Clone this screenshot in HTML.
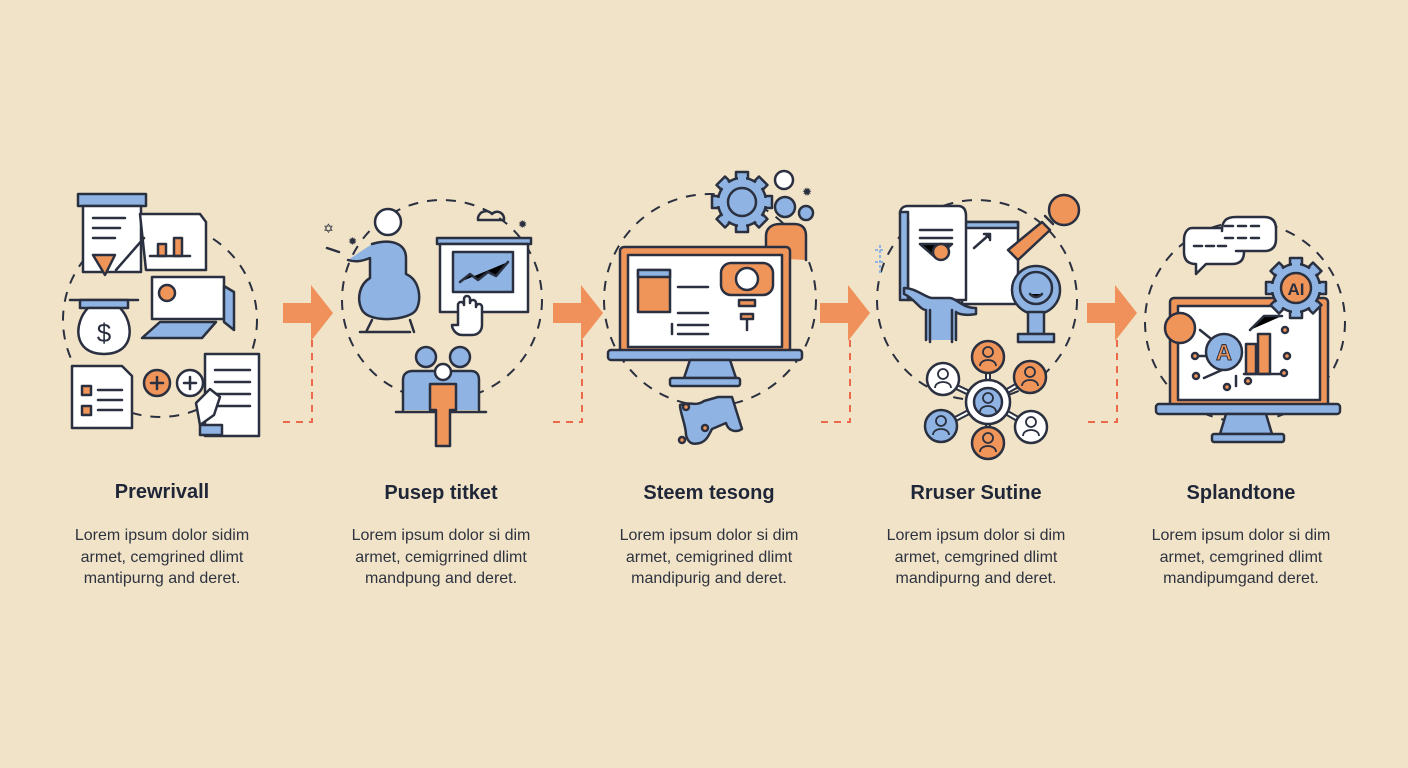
<!DOCTYPE html>
<html><head><meta charset="utf-8"><style>
html,body{margin:0;padding:0;background:#f1e3c7;}
svg{display:block}
text{font-family:"Liberation Sans",sans-serif;}
.t{font-size:20px;font-weight:bold;fill:#1f2638;text-anchor:middle}
.b{font-size:16px;fill:#2e3340;text-anchor:middle}
.k{stroke:#2a3040;stroke-width:2.5;stroke-linejoin:round;stroke-linecap:round}
.dc{fill:none;stroke:#2a3040;stroke-width:2;stroke-dasharray:10 9}
.rd{fill:none;stroke:#ec6a4c;stroke-width:2;stroke-dasharray:7 6}
</style></head><body>
<svg width="1408" height="768" viewBox="0 0 1408 768" xmlns="http://www.w3.org/2000/svg">
<defs>
<g id="gear">
<g fill="#8fb4e3" stroke="#2a3040" stroke-width="2.5" stroke-linejoin="round">
<rect x="-6" y="-30" width="12" height="60"/>
<rect x="-6" y="-30" width="12" height="60" transform="rotate(45)"/>
<rect x="-6" y="-30" width="12" height="60" transform="rotate(90)"/>
<rect x="-6" y="-30" width="12" height="60" transform="rotate(135)"/>
<circle r="24"/>
</g>
<g fill="#8fb4e3" stroke="none">
<rect x="-4" y="-27" width="8" height="54"/>
<rect x="-4" y="-27" width="8" height="54" transform="rotate(45)"/>
<rect x="-4" y="-27" width="8" height="54" transform="rotate(90)"/>
<rect x="-4" y="-27" width="8" height="54" transform="rotate(135)"/>
<circle r="22"/>
</g>
</g>
</defs>
<rect width="1408" height="768" fill="#f1e3c7"/>
<circle class="dc" cx="160" cy="320" r="97"/>
<circle class="dc" cx="442" cy="300" r="100"/>
<circle class="dc" cx="710" cy="300" r="106"/>
<circle class="dc" cx="977" cy="300" r="100"/>
<circle class="dc" cx="1245" cy="322" r="100"/>
<g fill="#f0905a">
<path d="M283 303h28v-18l22 28-22 28v-18h-28z"/>
<path d="M553 303h28v-18l22 28-22 28v-18h-28z"/>
<path d="M820 303h28v-18l22 28-22 28v-18h-28z"/>
<path d="M1087 303h28v-18l22 28-22 28v-18h-28z"/>
</g>
<path class="rd" d="M312 340V422H280"/>
<path class="rd" d="M582 340V422H550"/>
<path class="rd" d="M850 340V422H818"/>
<path class="rd" d="M1117 340V422H1085"/>

<!-- COL 1 -->
<g class="k">
<rect x="78" y="194" width="68" height="12" fill="#8fb4e3"/>
<rect x="83" y="206" width="58" height="66" fill="#fff"/>
<line x1="93" y1="218" x2="125" y2="218"/><line x1="93" y1="228" x2="120" y2="228"/><line x1="93" y1="238" x2="115" y2="238"/>
<path d="M93 255h22l-10 20z" fill="#f0955a"/>
<path d="M140 214h60l6 8v48h-60z" fill="#fff"/>
<path d="M116 270l28-32" />
<rect x="158" y="244" width="8" height="12" fill="#f0955a"/><rect x="174" y="238" width="8" height="18" fill="#f0955a"/>
<line x1="150" y1="256" x2="190" y2="256"/>
<line x1="70" y1="300" x2="138" y2="300"/>
<rect x="80" y="300" width="48" height="8" fill="#8fb4e3"/>
<path d="M88 308h32c14 14 16 46-16 46s-30-32-16-46z" fill="#fff"/>
<text x="104" y="342" font-size="26" fill="#2a3040" stroke="none" text-anchor="middle">$</text>
<rect x="152" y="277" width="72" height="42" fill="#fff"/>
<path d="M224 286l10 6v38l-10-8z" fill="#8fb4e3"/>
<circle cx="167" cy="293" r="8" fill="#f0955a"/>
<path d="M160 322h56l-14 16h-60z" fill="#8fb4e3"/>
<path d="M72 366h50l10 10v52H72z" fill="#fff"/>
<rect x="82" y="386" width="9" height="9" fill="#f0955a"/><rect x="82" y="406" width="9" height="9" fill="#f0955a"/>
<line x1="98" y1="390" x2="122" y2="390"/><line x1="98" y1="400" x2="122" y2="400"/><line x1="98" y1="410" x2="122" y2="410"/>
<circle cx="157" cy="383" r="13" fill="#f0955a"/><path d="M151 383h12M157 377v12"/>
<circle cx="190" cy="383" r="13" fill="#fff"/><path d="M184 383h12M190 377v12"/>
<rect x="205" y="354" width="54" height="82" fill="#fff"/>
<line x1="215" y1="370" x2="250" y2="370"/><line x1="215" y1="382" x2="250" y2="382"/><line x1="215" y1="394" x2="250" y2="394"/><line x1="215" y1="406" x2="250" y2="406"/>
<path d="M200 425l-4-22 14-14 10 8-6 18z" fill="#fff"/>
<rect x="200" y="425" width="22" height="10" fill="#8fb4e3"/>
</g>

<!-- COL 2 -->
<g class="k">
<circle cx="388" cy="222" r="13" fill="#fff"/>
<path d="M372 244c20-6 34 0 34 14v16c14 6 16 26 10 36s-46 14-54 0c-6-12-2-26 8-32l0-20c-10 4-16 4-22 2" fill="#8fb4e3"/>
<path d="M372 320l-6 12M410 320l4 12M360 332h50"/>
<rect x="437" y="238" width="94" height="6" fill="#8fb4e3"/>
<rect x="440" y="244" width="88" height="68" fill="#fff"/>
<rect x="453" y="252" width="60" height="40" fill="#8fb4e3"/>
<path d="M460 282l10-8 8 6 10-8 8 4 12-14"/>
<path d="M458 325v-20c0-4 6-4 6 0v-6c0-4 6-4 6 0v4c0-4 6-4 6 0v4c0-4 6-4 6 0v18c0 6-4 10-10 10h-10c-6 0-10-6-10-10z" fill="#fff"/>
<path d="M478 218a8 8 0 0 1 14-4a7 7 0 0 1 12 6h-26z" fill="none"/>
<circle cx="426" cy="357" r="10" fill="#8fb4e3"/><circle cx="460" cy="357" r="10" fill="#8fb4e3"/>
<path d="M403 410v-30c0-6 4-9 10-9h58c6 0 8 4 8 9v30" fill="#8fb4e3"/>
<line x1="396" y1="412" x2="486" y2="412"/>
<circle cx="443" cy="372" r="8" fill="#fff"/>
<path d="M430 410v-26h26v26h-6v36h-14v-36z" fill="#f0955a"/>
<path d="M327 248l12 4"/>
</g>
<text x="323" y="233" font-size="13" fill="#2a3040">✡</text>
<text x="348" y="245" font-size="11" fill="#2a3040">✹</text>
<text x="518" y="228" font-size="11" fill="#2a3040">✹</text>

<!-- COL 3 -->
<use href="#gear" x="742" y="202"/>
<g class="k">
<circle cx="742" cy="202" r="14" fill="#8fb4e3"/>
<circle cx="784" cy="180" r="9" fill="#fff"/>
<circle cx="785" cy="207" r="10" fill="#8fb4e3"/><circle cx="806" cy="213" r="7" fill="#8fb4e3"/>
<path d="M766 258v-22c0-8 6-12 14-12h14c8 0 12 4 12 12v24" fill="#f0955a"/>
<rect x="620" y="247" width="170" height="108" rx="4" fill="#f0955a"/>
<rect x="628" y="255" width="154" height="92" fill="#fff"/>
<rect x="638" y="270" width="32" height="42" fill="#f0955a"/>
<rect x="638" y="270" width="32" height="7" fill="#8fb4e3"/>
<path d="M678 287h30M678 313h30M678 325h30M672 324v10M678 334h30"/>
<rect x="721" y="263" width="52" height="32" rx="10" fill="#f0955a"/>
<circle cx="747" cy="279" r="11" fill="#fff"/>
<rect x="739" y="300" width="16" height="6" fill="#f0955a"/><rect x="741" y="314" width="12" height="5" fill="#f0955a"/>
<line x1="747" y1="320" x2="747" y2="330"/>
<rect x="608" y="350" width="194" height="10" rx="3" fill="#8fb4e3"/>
<path d="M690 360h40l6 18h-52z" fill="#8fb4e3"/>
<rect x="670" y="378" width="70" height="8" rx="2" fill="#8fb4e3"/>
<path d="M680 405c8-4 16 2 24-4l14-4 14 0 10 32c-6 4-14 2-16-6l-14 6c-4 8-6 12-12 14-8 2-12 0-14-8 0-10-6-22-6-30z" fill="#8fb4e3"/>
<circle cx="686" cy="407" r="3" fill="#f0955a"/><circle cx="705" cy="428" r="3" fill="#f0955a"/><circle cx="682" cy="440" r="3" fill="#f0955a"/>
</g>
<text x="802" y="196" font-size="12" fill="#2a3040">✹</text>

<!-- COL 4 -->
<g class="k">
<rect x="962" y="222" width="56" height="82" fill="#fff"/>
<rect x="962" y="222" width="56" height="6" fill="#8fb4e3"/>
<path d="M900 214c0-6 4-8 8-8h50c6 0 8 4 8 10v84h-58v-80z" fill="#fff"/>
<rect x="900" y="212" width="8" height="88" fill="#8fb4e3"/>
<path d="M920 230h32M920 238h32M920 244h32l-16 14z"/>
<path d="M974 248l16-14M984 234h6v6"/>
<circle cx="941" cy="252" r="8" fill="#f0955a"/>
<path d="M926 340v-30c-6 0-12-12-22-16l0-6c12 0 22 10 28 10h18c6 0 12 10 26 10v6c-10 2-18 0-20-2v28" fill="#8fb4e3"/>
<path d="M930 310v32M952 310v32"/>
<path d="M1008 250l34-28 8 8-32 30z" fill="#f0955a"/>
<circle cx="1064" cy="210" r="15" fill="#f0955a"/>
<path d="M1045 216l8 8" />
<circle cx="1036" cy="290" r="24" fill="#8fb4e3"/>
<circle cx="1036" cy="288" r="16" fill="#8fb4e3"/>
<path d="M1030 294c4 4 8 4 12 0"/>
<path d="M1028 312h16v22h-16z" fill="#8fb4e3"/>
<rect x="1018" y="334" width="36" height="8" fill="#8fb4e3"/>
<path d="M942 380L988 402M1030 378L988 402M942 426L988 402M1030 426L988 402M988 360v42M988 444v-42" stroke-width="6" stroke="#2a3040"/>
<path d="M942 380L988 402M1030 378L988 402M942 426L988 402M1030 426L988 402M988 360v42M988 444v-42" stroke-width="2" stroke="#fff"/>
<circle cx="988" cy="357" r="16" fill="#f0955a"/>
<circle cx="943" cy="379" r="16" fill="#fff"/>
<circle cx="1030" cy="377" r="16" fill="#f0955a"/>
<circle cx="988" cy="402" r="22" fill="#fff"/>
<circle cx="988" cy="402" r="14" fill="#8fb4e3"/>
<circle cx="941" cy="426" r="16" fill="#8fb4e3"/>
<circle cx="1031" cy="427" r="16" fill="#fff"/>
<circle cx="988" cy="443" r="16" fill="#f0955a"/>
</g>
<g fill="none" stroke="#2a3040" stroke-width="1.8">
<circle cx="988" cy="352" r="5"/><path d="M980 366c0-8 16-8 16 0"/>
<circle cx="943" cy="374" r="5"/><path d="M935 388c0-8 16-8 16 0"/>
<circle cx="1030" cy="372" r="5"/><path d="M1022 386c0-8 16-8 16 0"/>
<circle cx="988" cy="398" r="5"/><path d="M980 412c0-8 16-8 16 0"/>
<circle cx="941" cy="421" r="5"/><path d="M933 435c0-8 16-8 16 0"/>
<circle cx="1031" cy="422" r="5"/><path d="M1023 436c0-8 16-8 16 0"/>
<circle cx="988" cy="438" r="5"/><path d="M980 452c0-8 16-8 16 0"/>
</g>
<path d="M880 245v28M875 250h10M875 262h10" stroke="#8fb4e3" stroke-width="2" stroke-dasharray="3 2"/>

<!-- COL 5 -->
<g class="k">
<path d="M1192 228h40c8 0 12 4 12 12v12c0 8-4 12-12 12h-26l-10 10v-10c-8 0-12-4-12-12v-12c0-8 4-12 8-12z" fill="#fff"/>
<path d="M1222 231c0-10 4-14 14-14h28c8 0 12 4 12 12v10c0 8-4 12-12 12h-28" fill="#fff"/>
<path d="M1225 226h8M1238 226h8M1251 226h8M1225 238h8M1238 238h8M1251 238h8M1194 246h8M1206 246h8M1218 246h8"/>
<rect x="1170" y="298" width="158" height="110" rx="4" fill="#f0955a"/>
<rect x="1178" y="306" width="142" height="94" fill="#fff"/>
</g>
<use href="#gear" x="1296" y="288"/>
<g class="k">
<circle cx="1296" cy="288" r="15" fill="#f0955a"/>
<path d="M1200 330l20 16M1250 330l14-14h18M1248 350h14M1222 370l-18 8M1236 376v10M1250 368l10 4M1196 356h10"/>
<circle cx="1224" cy="352" r="18" fill="#8fb4e3"/>
<rect x="1246" y="344" width="10" height="30" fill="#f0955a"/><rect x="1258" y="334" width="12" height="40" fill="#f0955a"/>
<line x1="1244" y1="374" x2="1284" y2="374"/>
<circle cx="1180" cy="328" r="15" fill="#f0955a"/>
<circle cx="1285" cy="330" r="3" fill="#f0955a"/><circle cx="1287" cy="356" r="3" fill="#f0955a"/><circle cx="1284" cy="373" r="3" fill="#f0955a"/>
<circle cx="1195" cy="356" r="3" fill="#f0955a"/><circle cx="1196" cy="376" r="3" fill="#f0955a"/><circle cx="1227" cy="387" r="3" fill="#f0955a"/><circle cx="1248" cy="381" r="3" fill="#f0955a"/>
<rect x="1156" y="404" width="184" height="10" rx="3" fill="#8fb4e3"/>
<path d="M1226 414h40l6 20h-52z" fill="#8fb4e3"/>
<rect x="1212" y="434" width="72" height="8" rx="2" fill="#8fb4e3"/>
</g>
<text x="1296" y="295" font-size="17" font-weight="bold" fill="#2a3040" text-anchor="middle">AI</text>
<text x="1224" y="360" font-size="22" font-weight="bold" fill="#f0955a" stroke="#2a3040" stroke-width="1" text-anchor="middle">A</text>

<text class="t" x="162" y="498">Prewrivall</text>
<text class="t" x="441" y="499">Pusep titket</text>
<text class="t" x="709" y="499">Steem tesong</text>
<text class="t" x="976" y="499">Rruser Sutine</text>
<text class="t" x="1241" y="499">Splandtone</text>
<g class="b">
<text x="162" y="540">Lorem ipsum dolor sidim</text><text x="162" y="562">armet, cemgrined dlimt</text><text x="162" y="583">mantipurng and deret.</text>
<text x="441" y="540">Lorem ipsum dolor si dim</text><text x="441" y="562">armet, cemigrrined dlimt</text><text x="441" y="583">mandpung and deret.</text>
<text x="709" y="540">Lorem ipsum dolor si dim</text><text x="709" y="562">armet, cemigrined dlimt</text><text x="709" y="583">mandipurig and deret.</text>
<text x="976" y="540">Lorem ipsum dolor si dim</text><text x="976" y="562">armet, cemgrined dlimt</text><text x="976" y="583">mandipurng and deret.</text>
<text x="1241" y="540">Lorem ipsum dolor si dim</text><text x="1241" y="562">armet, cemgrined dlimt</text><text x="1241" y="583">mandipumgand deret.</text>
</g>
</svg>
</body></html>
